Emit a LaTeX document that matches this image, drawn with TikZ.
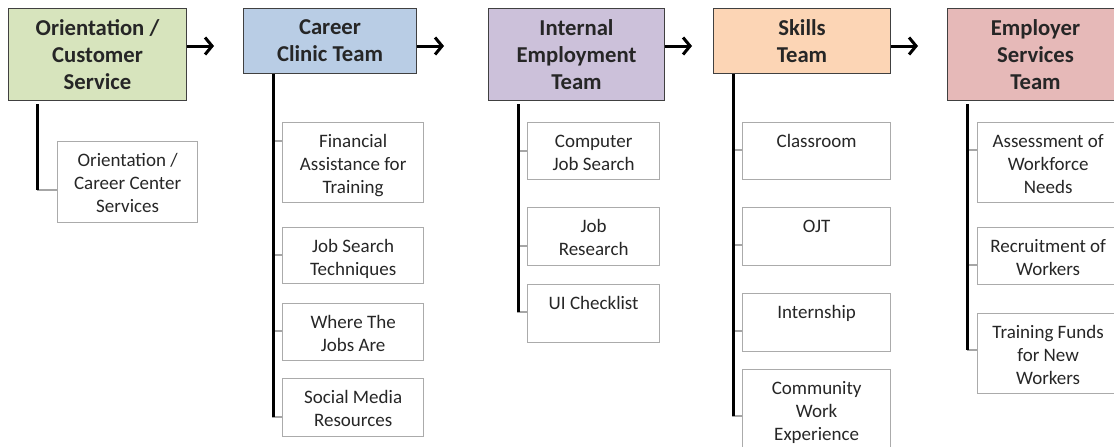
\documentclass[tikz,border=0pt]{standalone}
\usepackage{fontspec}
\setmainfont{Carlito}
\usetikzlibrary{arrows.meta,positioning,calc}
\definecolor{hdgreen}{RGB}{215,228,189}
\definecolor{hdblue}{RGB}{185,205,229}
\definecolor{hdlilac}{RGB}{204,193,218}
\definecolor{hdpeach}{RGB}{252,213,181}
\definecolor{hdrose}{RGB}{230,185,184}
\tikzset{hdr/.style={draw=black!75, line width=1pt, anchor=north west, align=center, inner sep=0pt, text=black!85, font={\fontsize{22.7}{27}\selectfont\bfseries}}}
\tikzset{leafbox/.style={draw=black!33, line width=1.3pt, anchor=north west, inner sep=0pt}}
\tikzset{leaftext/.style={anchor=north, align=center, inner sep=0pt, text=black!85, font={\fontsize{19}{23}\selectfont}}}
\tikzset{spine/.style={draw, line width=3pt}}
\tikzset{stub/.style={draw=black!35, line width=2.5pt}}
\tikzset{flow/.style={draw, line width=3pt, -{Straight Barb[length=7pt,width=17pt]}}}
% one box of a team column, text sits at the top
\newcommand\leaf[6]{
		\node[leafbox, minimum width=#4pt, minimum height=#5pt] (#1) at (#2,#3) {};
		\node[leaftext] (#1-t) at ([yshift=-9pt]#1.north) {\strut #6};
	}

\begin{document}
\begin{tikzpicture}[x=1pt,y=-1pt]
	\path[use as bounding box, clip] (0,0) rectangle (1114,447);

	% team headers
	\node[hdr, fill=hdgreen, minimum width=178pt, minimum height=92pt] (orient) at (8,8) {Orientation /\\Customer\\Service};
	\node[hdr, fill=hdblue, minimum width=173pt, minimum height=65pt] (clinic) at (243,8) {Career\\Clinic Team};
	\node[hdr, fill=hdlilac, minimum width=176pt, minimum height=92pt] (internal) at (488,8) {Internal\\Employment\\Team};
	\node[hdr, fill=hdpeach, minimum width=177pt, minimum height=65pt] (skills) at (713,8) {Skills\\Team};
	\node[hdr, fill=hdrose, minimum width=176pt, minimum height=92pt] (employer) at (947,8) {Employer\\Services\\Team};

	\foreach \h in {orient,clinic,internal,skills}
		\draw[flow] ([yshift=-38pt]\h.north east) -- ++(27,0);

	% services under each team
	\leaf{orl}{57}{141}{140}{81}{Orientation /\\Career Center\\Services}

	\leaf{fin}{282}{122}{141}{80}{Financial\\Assistance for\\Training}
	\leaf{jst}{282}{227}{141}{56}{Job Search\\Techniques}
	\leaf{wja}{282}{303}{141}{57}{Where The\\Jobs Are}
	\leaf{soc}{282}{378}{141}{58}{Social Media\\Resources}

	\leaf{cjs}{527}{122}{132}{57}{Computer\\Job Search}
	\leaf{jre}{527}{207}{132}{58}{Job\\Research}
	\leaf{uic}{527}{284}{132}{58}{UI Checklist}

	\leaf{cls}{742}{122}{148}{57}{Classroom}
	\leaf{ojt}{742}{207}{148}{58}{OJT}
	\leaf{int}{742}{293}{148}{58}{Internship}
	\leaf{cwe}{742}{369}{148}{82}{Community\\Work\\Experience}

	\leaf{asw}{977}{122}{141}{80}{Assessment of\\Workforce\\Needs}
	\leaf{rec}{977}{227}{141}{57}{Recruitment of\\Workers}
	\leaf{trf}{977}{313}{141}{80}{Training Funds\\for New\\Workers}

	% grey ticks from the spine into each box
	\coordinate (orl-s) at ([yshift=-49pt]orl.north west);
	\draw[stub] (orl-s) -- ++(-20,0);
	\foreach \n/\d in {fin/19, jst/28, wja/28, soc/39, cjs/29, jre/39, uic/28, cls/28, ojt/38, int/38, cwe/47, asw/28, rec/38, trf/37}
		{
		\coordinate (\n-s) at ([yshift=-\d pt]\n.north west);
		\draw[stub] (\n-s) -- ++(-10,0);
		}

	% spines
	\coordinate (orient-sp) at ([xshift=29pt,yshift=-3pt]orient.south west);
	\coordinate (clinic-sp) at ([xshift=30pt]clinic.south west);
	\coordinate (internal-sp) at ([xshift=30pt,yshift=-3pt]internal.south west);
	\coordinate (skills-sp) at ([xshift=20pt]skills.south west);
	\coordinate (employer-sp) at ([xshift=20pt,yshift=-3pt]employer.south west);
	\draw[spine] (orient-sp) -- (orient-sp |- orl-s);
	\draw[spine] (clinic-sp) -- (clinic-sp |- soc-s);
	\draw[spine] (internal-sp) -- (internal-sp |- uic-s);
	\draw[spine] (skills-sp) -- (skills-sp |- cwe-s);
	\draw[spine] (employer-sp) -- (employer-sp |- trf-s);
\end{tikzpicture}
\end{document}
